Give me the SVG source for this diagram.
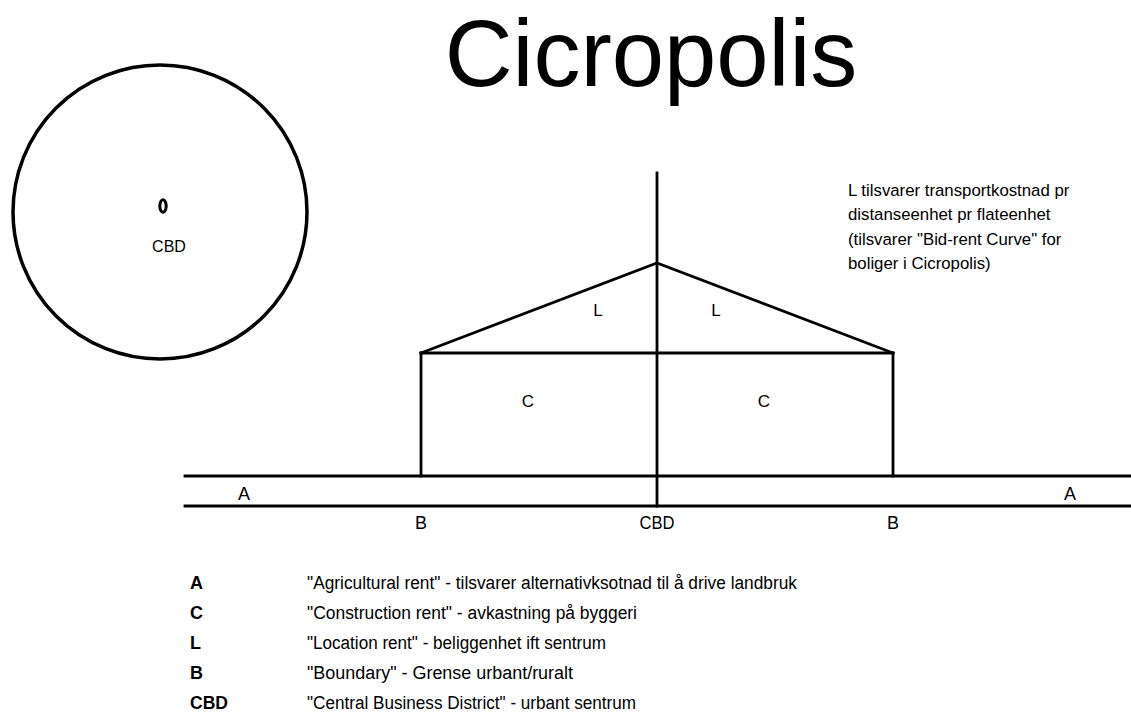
<svg xmlns="http://www.w3.org/2000/svg" width="1131" height="713" viewBox="0 0 1131 713">
<style>
.ln{stroke:#000;stroke-width:2.8;fill:none;stroke-linecap:square}
.t{font-family:"Liberation Sans",Arial,sans-serif;fill:#000}
.n{font-family:"Liberation Sans Narrow","Arial Narrow","Liberation Sans",sans-serif;fill:#000}
</style>
<rect width="1131" height="713" fill="#fff"/>
<text class="t" x="651" y="86" font-size="94" text-anchor="middle">Cicropolis</text>
<g id="city-circle">
<circle cx="160" cy="212" r="147" fill="none" stroke="#000" stroke-width="3.5"/>
<ellipse cx="163" cy="206" rx="3.2" ry="6.2" fill="none" stroke="#000" stroke-width="3"/>
<text class="t" x="169" y="252" font-size="16" text-anchor="middle">CBD</text>
</g>
<g id="connectors">
<line class="ln" x1="657" y1="173" x2="657" y2="506"/>
<polyline class="ln" points="421,353 657,263 893,353"/>
<line class="ln" x1="421" y1="353" x2="893" y2="353"/>
<line class="ln" x1="421" y1="353" x2="421" y2="476"/>
<line class="ln" x1="893" y1="353" x2="893" y2="476"/>
<line class="ln" x1="185" y1="476" x2="1131" y2="476"/>
<line class="ln" x1="185" y1="506" x2="1131" y2="506"/>
</g>
<g id="labels">
<text class="t" x="598" y="316" font-size="17" text-anchor="middle">L</text>
<text class="t" x="716" y="316" font-size="17" text-anchor="middle">L</text>
<text class="t" x="528" y="407" font-size="17" text-anchor="middle">C</text>
<text class="t" x="764" y="407" font-size="17" text-anchor="middle">C</text>
<text class="n" x="244" y="500" font-size="18" text-anchor="middle">A</text>
<text class="n" x="1070" y="500" font-size="18" text-anchor="middle">A</text>
<text class="n" x="421" y="529" font-size="18" text-anchor="middle">B</text>
<text class="n" x="657" y="529" font-size="18" text-anchor="middle" textLength="35" lengthAdjust="spacingAndGlyphs">CBD</text>
<text class="n" x="893" y="529" font-size="18" text-anchor="middle">B</text>
</g>
<g id="note">
<text class="t" font-size="16.8"><tspan x="848" y="196">L tilsvarer transportkostnad pr</tspan><tspan x="848" y="220">distanseenhet pr flateenhet</tspan><tspan x="848" y="245">(tilsvarer "Bid-rent Curve" for</tspan><tspan x="848" y="269">boliger i Cicropolis)</tspan></text>
</g>
<g id="legend">
<text class="n" x="190" y="589" font-size="18" font-weight="bold">A</text>
<text class="n" x="190" y="619" font-size="18" font-weight="bold">C</text>
<text class="n" x="190" y="649" font-size="18" font-weight="bold">L</text>
<text class="n" x="190" y="679" font-size="18" font-weight="bold">B</text>
<text class="n" x="190" y="709" font-size="18" font-weight="bold" textLength="38" lengthAdjust="spacingAndGlyphs">CBD</text>
<text class="n" x="307" y="589" font-size="18" textLength="490" lengthAdjust="spacingAndGlyphs">"Agricultural rent" - tilsvarer alternativksotnad til å drive landbruk</text>
<text class="n" x="307" y="619" font-size="18" textLength="330" lengthAdjust="spacingAndGlyphs">"Construction rent" - avkastning på byggeri</text>
<text class="n" x="307" y="649" font-size="18" textLength="299" lengthAdjust="spacingAndGlyphs">"Location rent" - beliggenhet ift sentrum</text>
<text class="n" x="307" y="679" font-size="18" textLength="266" lengthAdjust="spacingAndGlyphs">"Boundary" - Grense urbant/ruralt</text>
<text class="n" x="307" y="709" font-size="18" textLength="329" lengthAdjust="spacingAndGlyphs">"Central Business District" - urbant sentrum</text>
</g>
</svg>
